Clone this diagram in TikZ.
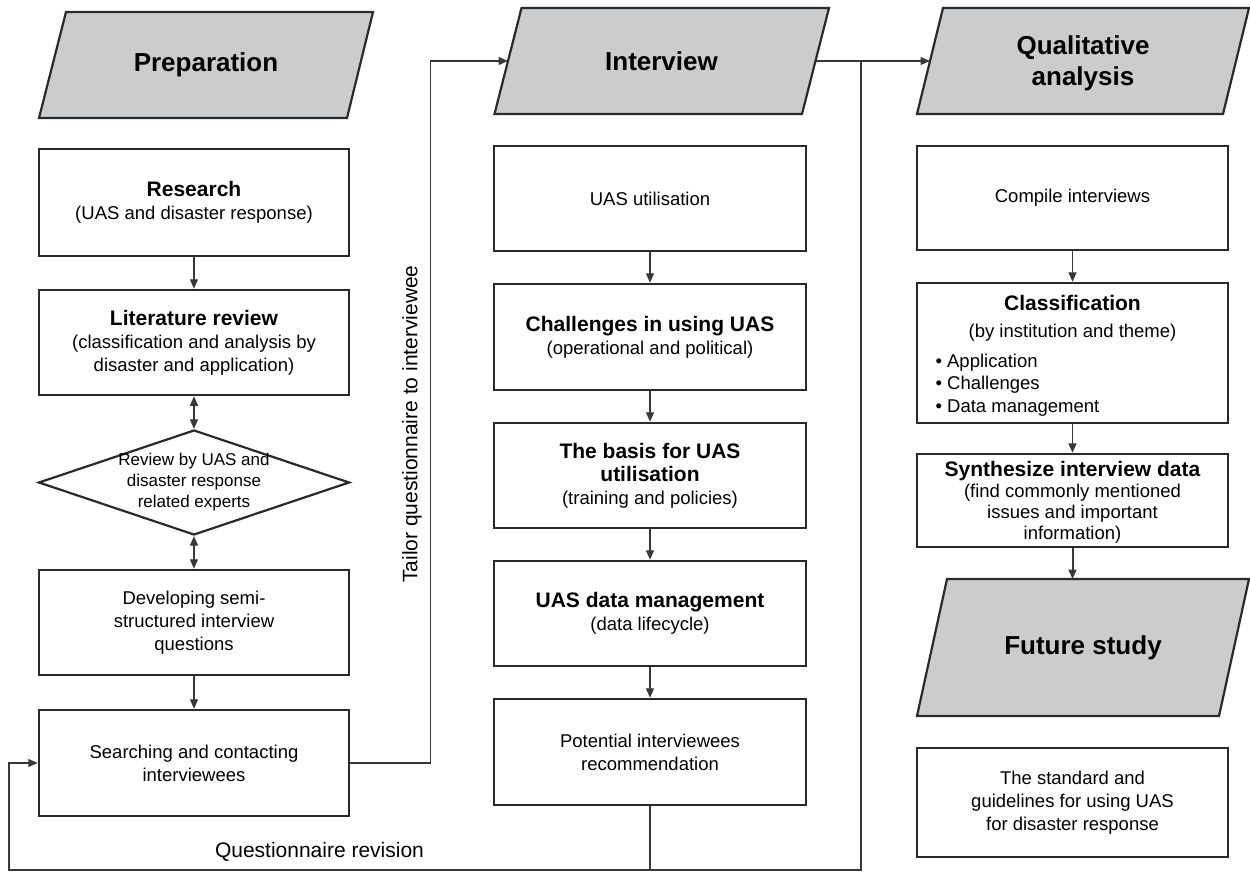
\documentclass[tikz,border=0pt]{standalone}
\usepackage{fontspec}
\setmainfont{Liberation Sans}
\usetikzlibrary{shapes.geometric,arrows.meta}
\definecolor{bordc}{HTML}{2A2A2A}
\definecolor{linec}{HTML}{383838}
\definecolor{hdrfill}{HTML}{CBCCCE}
\newcommand\bt[1]{{\fontsize{21}{25}\selectfont\bfseries #1}}
\begin{document}
\begin{tikzpicture}[x=1pt,y=-1pt,
  box/.style={draw=bordc, line width=2.5pt, fill=white, minimum width=310pt, inner sep=0pt, align=center, font=\fontsize{18.5}{23}\selectfont},
  hdr/.style={draw=bordc, line width=2.2pt, fill=hdrfill, line join=miter},
  hdrtext/.style={font=\fontsize{26}{31}\selectfont\bfseries, align=center},
  conn/.style={draw=linec, line width=1.3pt},
  arr/.style={conn, -{Triangle[length=9.5pt,width=8pt]}},
  darr/.style={conn, {Triangle[length=9.5pt,width=8pt]}-{Triangle[length=9.5pt,width=8pt]}},
  lbl/.style={font=\fontsize{21}{25}\selectfont}
]
\useasboundingbox (0,0) rectangle (1250,872);

% headers (parallelograms)
\path[hdr] (39,118) -- (347,118) -- (373,12) -- (66,12) -- cycle;
\node[hdrtext] (prep) at (206,65) {Preparation};
\path[hdr] (494.5,114) -- (802,114) -- (829,8) -- (521.5,8) -- cycle;
\node[hdrtext] (intv) at (661.5,61) {Interview};
\coordinate (intvL) at (508,61);
\coordinate (intvR) at (815.5,61);
\path[hdr] (917,114) -- (1223,114) -- (1249,8) -- (943,8) -- cycle;
\node[hdrtext] (qual) at (1083,63) {Qualitative\\analysis};
\coordinate (qualL) at (930,61);
\path[hdr] (917,716) -- (1219,716) -- (1249,579) -- (947,579) -- cycle;
\node[hdrtext] (future) at (1083,647.5) {Future study};
\coordinate (futT) at (1072.5,579);

% left column
\node[box, minimum height=107pt] (research) at (194,202.5) {\bt{Research}\\(UAS and disaster response)};
\node[box, minimum height=105pt] (lit) at (194,342.5) {\bt{Literature review}\\(classification and analysis by\\disaster and application)};
\node[diamond, draw=bordc, line width=2.2pt, fill=white, minimum width=311pt, minimum height=105pt, inner sep=0pt] (rev) at (194,482.5) {};
\node[align=center, font=\fontsize{17}{21}\selectfont] (revt) at (rev.center) {Review by UAS and\\disaster response\\related experts};
\node[box, minimum height=105pt] (dev) at (194,622.5) {Developing semi-\\structured interview\\questions};
\node[box, minimum height=106pt] (search) at (194,763) {Searching and contacting\\interviewees};

% middle column
\node[box, minimum width=312pt, minimum height=105pt] (util) at (650,198.5) {UAS utilisation};
\node[box, minimum width=312pt, minimum height=106pt] (chal) at (650,337) {\bt{Challenges in using UAS}\\(operational and political)};
\node[box, minimum width=312pt, minimum height=105pt] (basis) at (650,475.5) {\bt{The basis for UAS}\\\bt{utilisation}\\(training and policies)};
\node[box, minimum width=312pt, minimum height=105pt] (dm) at (650,613.5) {\bt{UAS data management}\\(data lifecycle)};
\node[box, minimum width=312pt, minimum height=106pt] (pot) at (650,752) {Potential interviewees\\recommendation};

% right column
\node[box, minimum width=311pt, minimum height=104pt] (compile) at (1072.5,198) {Compile interviews};
\node[box, minimum width=311pt, minimum height=140pt] (classif) at (1072.5,353) {};
\node[align=center, font=\fontsize{18.5}{27}\selectfont] (classt) at (1072.5,318) {\bt{Classification}\\(by institution and theme)};
\node[anchor=west, align=left, font=\fontsize{18.5}{22.5}\selectfont] (classl) at (932,385) {• Application\\• Challenges\\• Data management};
\node[box, minimum width=311pt, minimum height=93pt] (synth) at (1072.5,500.5) {};
\node[align=center, font=\fontsize{18.5}{21}\selectfont] (syntht) at (1072.5,502) {\bt{Synthesize interview data}\\(find commonly mentioned\\issues and important\\information)};
\node[box, minimum width=311pt, minimum height=109pt] (standard) at (1072.5,802.5) {The standard and\\guidelines for using UAS\\for disaster response};

% vertical arrows
\draw[arr] (research) -- (lit);
\draw[darr] (lit) -- (rev);
\draw[darr] (rev) -- (dev);
\draw[arr] (dev) -- (search);
\draw[arr] (util) -- (chal);
\draw[arr] (chal) -- (basis);
\draw[arr] (basis) -- (dm);
\draw[arr] (dm) -- (pot);
\draw[arr] (compile) -- (classif);
\draw[arr] (classif) -- (synth);
\draw[arr, line width=2pt] (synth.south) -- (futT);

% loops
\draw[arr] (search.east) -- ++(80,0) |- (intvL);
\draw[arr] (intvR) -- (qualL);
\coordinate (jn) at (861,61);
\coordinate (bl) at (9,870);
\draw[arr] (jn) |- (bl) |- (search.west);
\draw[conn, line width=2pt] (pot.south) -- (pot.south |- bl);

% labels
\node[lbl, rotate=90] (tailor) at (412,424) {Tailor questionnaire to interviewee};
\node[lbl] (qrev) at (319.5,852) {Questionnaire revision};
\end{tikzpicture}
\end{document}
